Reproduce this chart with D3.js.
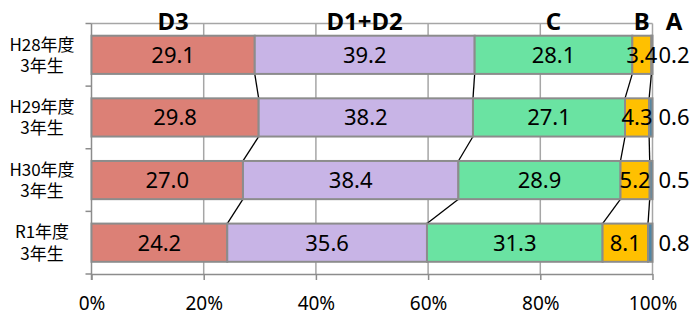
<!DOCTYPE html>
<html>
<head>
<meta charset="utf-8">
<script src="https://cdn.jsdelivr.net/npm/d3@7"></script>
<style>
  body { margin: 0; background: #fff; }
  svg { display: block; }
</style>
</head>
<body>
<svg id="chart" width="697" height="315"></svg>
<script>
'use strict';

const categories = ['H28年度\n3年生', 'H29年度\n3年生', 'H30年度\n3年生', 'R1年度\n3年生'];
const seriesNames = ['D3', 'D1+D2', 'C', 'B', 'A'];
const valD3 = [29.1, 29.8, 27.0, 24.2];
const valD1D2 = [39.2, 38.2, 38.4, 35.6];
const valC = [28.1, 27.1, 28.9, 31.3];
const valB = [3.4, 4.3, 5.2, 8.1];
const valA = [0.2, 0.6, 0.5, 0.8];
const tickLabels = [0, 20, 40, 60, 80, 100];

const colors = ['#dc8076', '#c8b4e6', '#6ae3a2', '#ffc000', '#4f86a6'];

const allSeries = [valD3, valD1D2, valC, valB, valA];

// build rows with cumulative starts
const rows = categories.map((c, i) => {
  let cum = 0;
  const segs = allSeries.map((s, k) => {
    const seg = { k: k, v: s[i], x0: cum, x1: cum + s[i] };
    cum += s[i];
    return seg;
  });
  return { cat: c, segs: segs };
});

const svg = d3.select('#chart');
const plotL = 91.5, plotR = 652.5, plotT = 23.5, plotB = 274;

const x = d3.scaleLinear().domain([0, 100]).range([plotL, plotR]);
const y = d3.scaleBand().domain(categories).range([plotT, plotB])
  .paddingInner(0.39).paddingOuter(0.195);
const step = y.step();

// gridlines
svg.append('g').selectAll('line')
  .data(tickLabels.slice(1))
  .enter().append('line')
    .attr('x1', d => x(d)).attr('x2', d => x(d))
    .attr('y1', plotT).attr('y2', plotB)
    .attr('stroke', '#a6a6a6').attr('stroke-width', 1.5);
svg.append('line')
  .attr('x1', plotL).attr('x2', plotR).attr('y1', plotT).attr('y2', plotT)
  .attr('stroke', '#a6a6a6').attr('stroke-width', 1.5);

// bottom axis
const xAxis = d3.axisBottom(x).tickValues(tickLabels).tickFormat(d => d + '%')
  .tickSize(6).tickSizeOuter(0);
const gx = svg.append('g').attr('transform', `translate(0,${plotB})`).call(xAxis);
gx.select('.domain').attr('stroke', '#8c8c8c').attr('stroke-width', 1.5);
gx.selectAll('.tick line').attr('stroke', '#8c8c8c').attr('stroke-width', 1.5);
gx.selectAll('.tick text')
  .attr('y', 29).attr('dy', '0.35em')
  .attr('font-family', 'Noto Sans').attr('font-size', 19).attr('fill', '#000');

// left axis line + ticks at band boundaries
svg.append('line')
  .attr('x1', plotL).attr('x2', plotL).attr('y1', plotT).attr('y2', plotB + 6)
  .attr('stroke', '#8c8c8c').attr('stroke-width', 1.5);
svg.append('g').selectAll('line')
  .data(d3.range(categories.length + 1))
  .enter().append('line')
    .attr('x1', plotL - 6).attr('x2', plotL)
    .attr('y1', d => plotT + d * step).attr('y2', d => plotT + d * step)
    .attr('stroke', '#8c8c8c').attr('stroke-width', 1.5);

// category labels, two lines each
const catG = svg.append('g').selectAll('text')
  .data(categories)
  .enter().append('text')
    .attr('x', 42)
    .attr('y', d => y(d) + y.bandwidth() / 2)
    .attr('text-anchor', 'middle')
    .attr('font-family', 'Noto Sans CJK JP').attr('font-size', 17);
catG.selectAll('tspan')
  .data(d => d.split('\n'))
  .enter().append('tspan')
    .attr('x', 42)
    .attr('dy', (d, i) => i === 0 ? '-0.25em' : '1.25em')
    .text(d => d);

// connector lines between bars
for (let i = 0; i < rows.length - 1; i++) {
  for (let k = 0; k < 4; k++) {
    svg.append('line')
      .attr('x1', x(rows[i].segs[k].x1))
      .attr('y1', y(rows[i].cat) + y.bandwidth())
      .attr('x2', x(rows[i + 1].segs[k].x1))
      .attr('y2', y(rows[i + 1].cat))
      .attr('stroke', '#000').attr('stroke-width', 1.3);
  }
}

// bars
const rowG = svg.append('g').selectAll('g')
  .data(rows)
  .enter().append('g')
    .attr('transform', d => `translate(0,${y(d.cat)})`);

rowG.selectAll('rect')
  .data(d => d.segs)
  .enter().append('rect')
    .attr('x', d => x(d.x0))
    .attr('width', d => x(d.x1) - x(d.x0))
    .attr('height', y.bandwidth())
    .attr('fill', d => colors[d.k])
    .attr('stroke', '#8c8c8c').attr('stroke-width', 2);

// value labels (A sits outside on the right)
rowG.selectAll('text')
  .data(d => d.segs)
  .enter().append('text')
    .attr('x', d => d.k === 4 ? 674 : x((d.x0 + d.x1) / 2))
    .attr('y', y.bandwidth() / 2)
    .attr('dy', '0.36em')
    .attr('text-anchor', 'middle')
    .attr('font-family', 'Noto Sans').attr('font-size', 22).attr('fill', '#000')
    .text(d => d.v.toFixed(1));

// series header labels above first row
svg.append('g').selectAll('text')
  .data(rows[0].segs)
  .enter().append('text')
    .attr('x', d => d.k === 4 ? 674 : x((d.x0 + d.x1) / 2))
    .attr('y', 30)
    .attr('text-anchor', 'middle')
    .attr('font-family', 'Noto Sans').attr('font-weight', 'bold')
    .attr('font-size', 24).attr('fill', '#000')
    .text(d => seriesNames[d.k]);
</script>
</body>
</html>
